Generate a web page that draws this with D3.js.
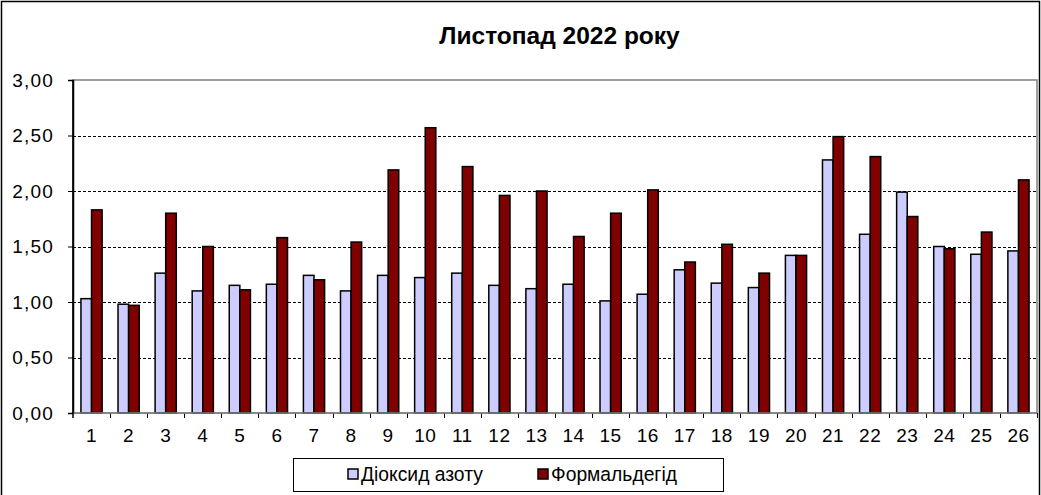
<!DOCTYPE html>
<html>
<head>
<meta charset="utf-8">
<script src="https://cdn.jsdelivr.net/npm/d3@7/dist/d3.min.js"></script>
<style>
  html, body { margin: 0; padding: 0; background: #fff; }
  svg { display: block; font-family: "Liberation Sans", Arial, sans-serif; }
</style>
</head>
<body>
<svg id="chart" width="1041" height="495"></svg>
<script>
const title = "Листопад 2022 року";
const days = ["1","2","3","4","5","6","7","8","9","10","11","12","13","14","15","16","17","18","19","20","21","22","23","24","25","26"];
const seriesNames = ["Діоксид азоту", "Формальдегід"];
const no2 = [1.03,0.98,1.26,1.10,1.15,1.16,1.24,1.10,1.24,1.22,1.26,1.15,1.12,1.16,1.01,1.07,1.29,1.17,1.13,1.42,2.28,1.61,1.99,1.50,1.43,1.46];
const formaldehyde = [1.83,0.97,1.80,1.50,1.11,1.58,1.20,1.54,2.19,2.57,2.22,1.96,2.00,1.59,1.80,2.01,1.36,1.52,1.26,1.42,2.49,2.31,1.77,1.48,1.63,2.10];
const yTicks = [0,0.5,1,1.5,2,2.5,3];
const colors = ["#CCCCFF", "#800000"];

const svg = d3.select("#chart");
const W = 1041, H = 495;
const plot = {left: 73, right: 1037, top: 80, bottom: 413};

// outer border
svg.append("rect").attr("x",1.5).attr("y",1.5).attr("width",1038).attr("height",H+5)
  .attr("fill","#fff").attr("stroke","#000").attr("stroke-width",1.5);

const x = d3.scaleBand().domain(days).range([plot.left, plot.right]).paddingInner(0).paddingOuter(0);
const y = d3.scaleLinear().domain([0,3]).range([plot.bottom, plot.top]);
const bw = x.bandwidth() / 3.5;
const x1 = d3.scaleBand().domain([0,1]).range([x.bandwidth()*0.75/3.5, x.bandwidth()*0.75/3.5 + 2*bw]);

// plot area border (gray)
svg.append("rect").attr("x",plot.left).attr("y",plot.top)
  .attr("width",plot.right-plot.left).attr("height",plot.bottom-plot.top)
  .attr("fill","none").attr("stroke","#808080").attr("stroke-width",1.5);

// gridlines
svg.append("g").selectAll("line").data(yTicks.filter(d => d>0 && d<3)).join("line")
  .attr("x1",plot.left).attr("x2",plot.right)
  .attr("y1",d=>Math.round(y(d))+0.5).attr("y2",d=>Math.round(y(d))+0.5)
  .attr("stroke","#000").attr("stroke-width",1).attr("stroke-dasharray","3,2");

// bars
const data = days.map((d,i)=>({day:d, vals:[no2[i], formaldehyde[i]]}));
const g = svg.append("g").selectAll("g").data(data).join("g")
  .attr("transform", d=>`translate(${x(d.day)},0)`);
g.selectAll("rect").data(d=>d.vals.map((v,k)=>({v,k}))).join("rect")
  .attr("x", d=>x1(d.k)).attr("width", bw)
  .attr("y", d=>y(d.v)).attr("height", d=>y(0)-y(d.v))
  .attr("fill", d=>colors[d.k]).attr("stroke","#000").attr("stroke-width",1.5);

// y axis
const yAxis = d3.axisLeft(y).tickValues(yTicks).tickSize(5).tickPadding(14)
  .tickFormat(d=>d3.format(".2f")(d).replace(".", ","));
const ya = svg.append("g").attr("transform",`translate(${plot.left},0)`).call(yAxis);
ya.select(".domain").attr("stroke","#000").attr("stroke-width",1.5);
ya.selectAll(".tick line").attr("stroke","#000");
ya.selectAll("text").attr("font-size",19).attr("letter-spacing","1.2px").attr("fill","#000")
  .attr("font-family","Liberation Sans, Arial, sans-serif");

// x axis
const xAxis = d3.axisBottom(x).tickSize(0).tickPadding(16);
const xa = svg.append("g").attr("transform",`translate(0,${plot.bottom})`).call(xAxis);
xa.select(".domain").remove();
xa.selectAll("text").attr("font-size",19).attr("letter-spacing","0.5px").attr("fill","#000")
  .attr("font-family","Liberation Sans, Arial, sans-serif");
// x ticks at category boundaries
svg.append("g").selectAll("line").data(days).join("line")
  .attr("x1",(d,i)=>Math.round(plot.left + x.step()*(i+1))+0.5)
  .attr("x2",(d,i)=>Math.round(plot.left + x.step()*(i+1))+0.5)
  .attr("y1",plot.bottom).attr("y2",plot.bottom+5).attr("stroke","#000");
svg.append("line").attr("x1",plot.left).attr("x2",plot.right).attr("y1",plot.bottom).attr("y2",plot.bottom)
  .attr("stroke","#808080").attr("stroke-width",1.5);
svg.append("line").attr("x1",plot.left).attr("x2",plot.left).attr("y1",plot.top).attr("y2",plot.bottom+5)
  .attr("stroke","#000").attr("stroke-width",1.5);

// title
svg.append("text").attr("x",559.5).attr("y",44).attr("text-anchor","middle")
  .attr("font-size",24.5).attr("font-weight","bold").text(title);

// legend
const lg = svg.append("g");
lg.append("rect").attr("x",293.5).attr("y",458.5).attr("width",430).attr("height",33)
  .attr("fill","#fff").attr("stroke","#000").attr("stroke-width",1);
const legX = [348, 538];
seriesNames.forEach((n,i)=>{
  lg.append("rect").attr("x",legX[i]).attr("y",469).attr("width",10).attr("height",10)
    .attr("fill",colors[i]).attr("stroke","#000").attr("stroke-width",1.5);
  lg.append("text").attr("x",legX[i]+13).attr("y",481).attr("font-size",19.3).text(n);
});
</script>
</body>
</html>
